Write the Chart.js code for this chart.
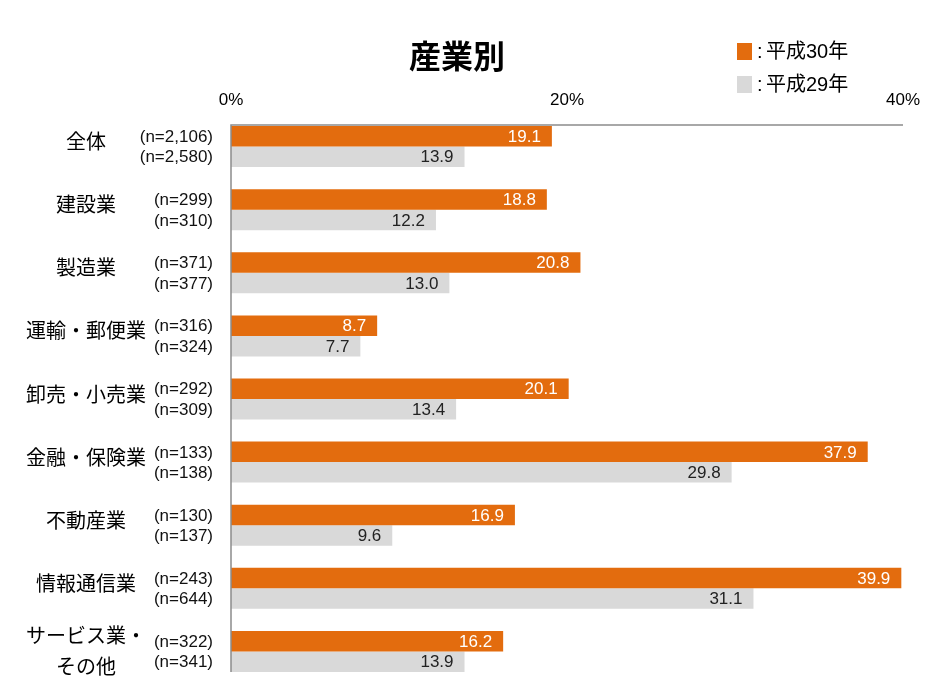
<!DOCTYPE html>
<html>
<head>
<meta charset="utf-8">
<script src="https://cdn.jsdelivr.net/npm/chart.js@4.4.1/dist/chart.umd.min.js"></script>
<style>
  body { margin: 0; background: #fff; }
  #wrap { width: 927px; height: 692px; position: relative; }
</style>
</head>
<body>
<div id="wrap"><canvas id="industryChart"></canvas></div>
<script>
var categories = ['全体', '建設業', '製造業', '運輸・郵便業', '卸売・小売業', '金融・保険業', '不動産業', '情報通信業', ['サービス業・', 'その他']]
var h30 = [19.1, 18.8, 20.8, 8.7, 20.1, 37.9, 16.9, 39.9, 16.2]
var h29 = [13.9, 12.2, 13.0, 7.7, 13.4, 29.8, 9.6, 31.1, 13.9]
var n30 = ['2,106', '299', '371', '316', '292', '133', '130', '243', '322']
var n29 = ['2,580', '310', '377', '324', '309', '138', '137', '644', '341']
var xTicks = [0, 20, 40]

var LATIN = "'Liberation Sans', 'Noto Sans CJK JP', sans-serif"
var JP = "'Noto Sans CJK JP', sans-serif"

// title, legend, labels and the two axis lines
var decorate = {
  id: 'decorate',
  afterDatasetsDraw: function (chart) {
    var ctx = chart.ctx
    var xs = chart.scales.x
    var m0 = chart.getDatasetMeta(0)
    var m1 = chart.getDatasetMeta(1)
    var nLists = [n30, n29]

    ctx.save()

    // value labels at the bar ends
    ;[m0, m1].forEach(function (meta, di) {
      var ds = chart.data.datasets[di]
      meta.data.forEach(function (bar, i) {
        ctx.font = '17px ' + LATIN
        ctx.textAlign = 'right'
        ctx.textBaseline = 'middle'
        ctx.fillStyle = di === 0 ? '#ffffff' : '#222222'
        ctx.fillText(ds.data[i].toFixed(1), bar.x - 11, bar.y + 1)

        // n labels left of the axis
        ctx.fillStyle = '#111'
        ctx.fillText('(n=' + nLists[di][i] + ')', xs.left - 18, bar.y + 1)
      })
    })

    // category names
    ctx.font = '20px ' + JP
    ctx.textAlign = 'center'
    ctx.fillStyle = '#000'
    categories.forEach(function (c, i) {
      var cy = chart.scales.y.getPixelForValue(i)
      if (Array.isArray(c)) {
        ctx.fillText(c[0], 86, cy - 16)
        ctx.fillText(c[1], 86, cy + 15)
      } else {
        ctx.fillText(c, 86, cy - 5)
      }
    })

    // axis lines, tight to the bars
    var first = m0.data[0]
    var last = m1.data[m1.data.length - 1]
    var top = first.y - first.height / 2 - 1
    var bottom = last.y + last.height / 2
    ctx.strokeStyle = '#8c8c8c'
    ctx.lineWidth = 1.5
    ctx.beginPath()
    ctx.moveTo(xs.left, bottom)
    ctx.lineTo(xs.left, top)
    ctx.lineTo(xs.right, top)
    ctx.stroke()

    // title
    ctx.font = 'bold 32px ' + JP
    ctx.textAlign = 'center'
    ctx.fillStyle = '#000'
    ctx.fillText('産業別', 457, 56)

    // legend
    ctx.textAlign = 'left'
    ctx.font = '20px ' + LATIN
    chart.data.datasets.forEach(function (ds, i) {
      var ly = 51 + i * 33
      ctx.fillStyle = ds.backgroundColor
      ctx.fillRect(737, ly - 8, 15, 17)
      ctx.fillStyle = '#000'
      ctx.fillText(':', 757, ly + 1)
      ctx.fillText(ds.label, 766, ly + 1)
    })

    ctx.restore()
  },
}

var ctx = document.getElementById('industryChart').getContext('2d')
var industryChart = new Chart(ctx, {
  type: 'bar',
  data: {
    labels: categories,
    datasets: [
      {
        label: '平成30年',
        data: h30,
        backgroundColor: '#e36c0e',
        borderWidth: 0,
      },
      {
        label: '平成29年',
        data: h29,
        backgroundColor: '#d9d9d9',
        borderWidth: 0,
      },
    ],
  },
  options: {
    indexAxis: 'y',
    responsive: true,
    maintainAspectRatio: false,
    animation: false,
    layout: {
      padding: { top: 0, right: 24, bottom: 9, left: 0 },
    },
    datasets: {
      bar: { barPercentage: 1, categoryPercentage: 0.65 },
    },
    scales: {
      x: {
        position: 'top',
        min: 0,
        max: 40,
        afterBuildTicks: function (s) {
          s.ticks = xTicks.map(function (v) { return { value: v } })
        },
        afterFit: function (s) { s.height = 115 },
        ticks: {
          padding: 4,
          color: '#000',
          font: { family: LATIN, size: 17 },
          callback: function (v) { return v + '%' },
        },
        grid: { display: false, drawTicks: false },
        border: { display: false },
      },
      y: {
        afterFit: function (s) { s.width = 231 },
        ticks: { display: false },
        grid: { display: false, drawTicks: false },
        border: { display: false },
      },
    },
    plugins: {
      legend: { display: false },
      title: { display: false },
      tooltip: { enabled: false },
    },
  },
  plugins: [decorate],
})
</script>
</body>
</html>
